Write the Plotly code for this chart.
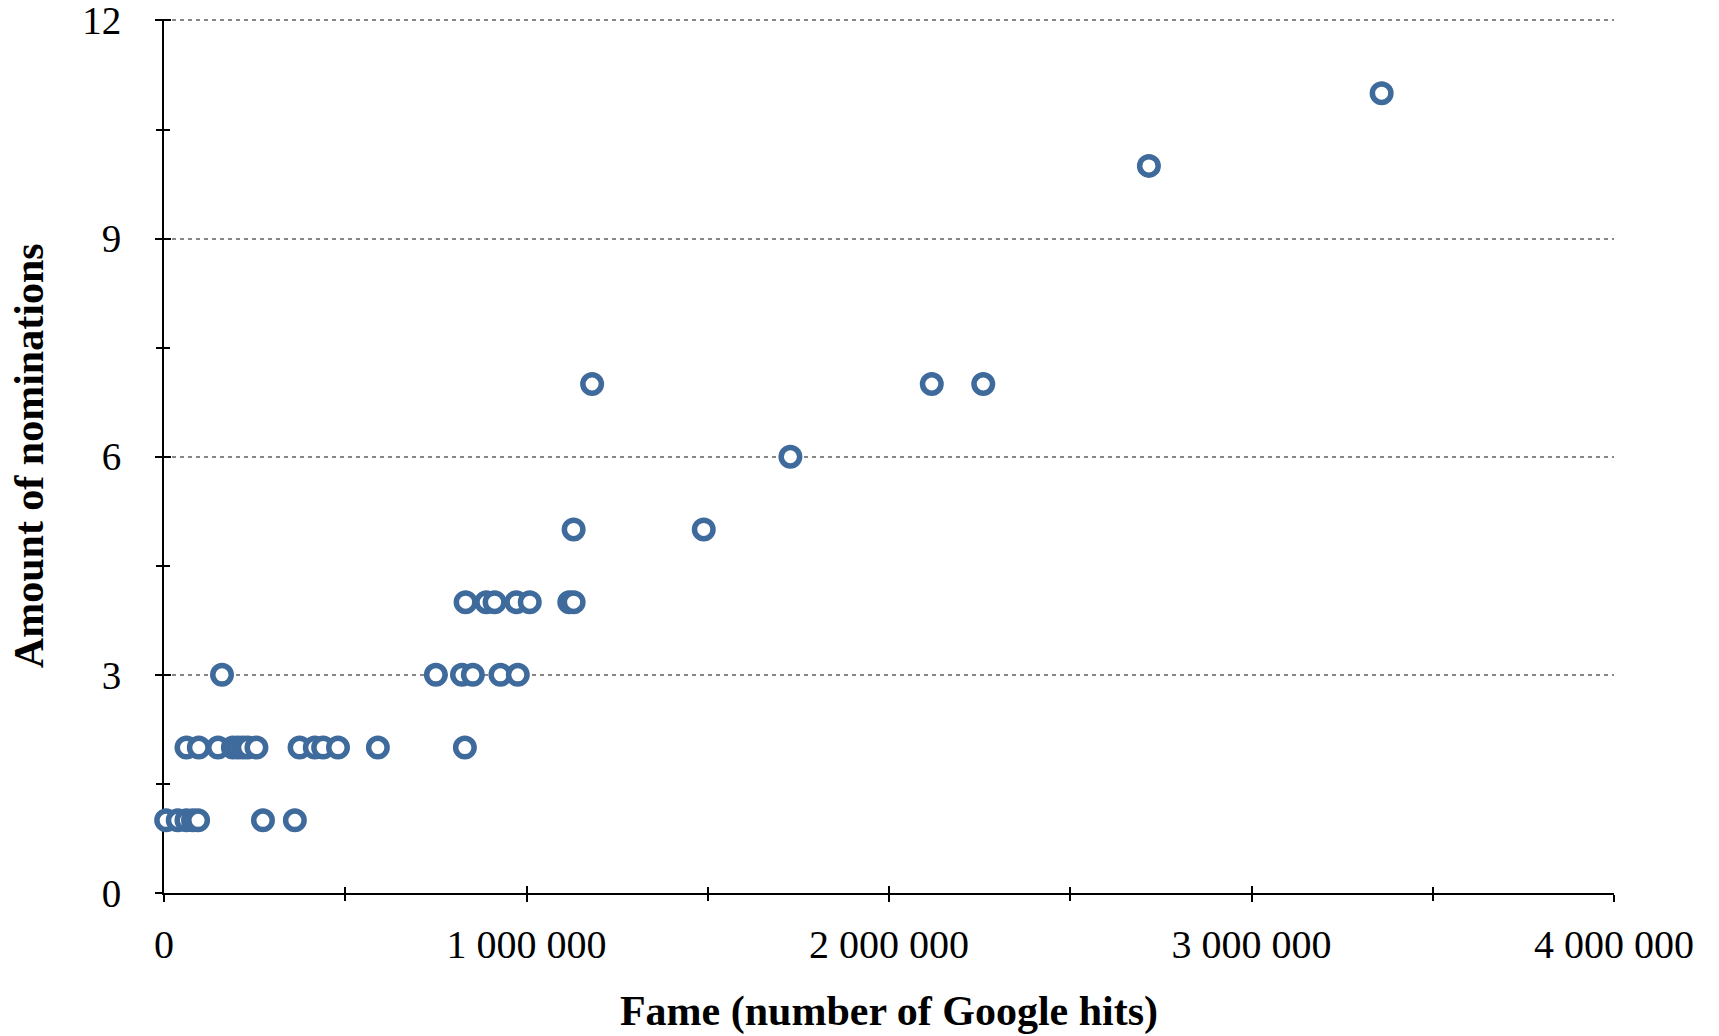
import plotly.graph_objects as go

# ---- data ----
fame_1 = [6000, 38000, 62000, 80000, 94000, 273000, 361000]
fame_2 = [62000, 96000, 149000, 190000, 204000, 218000, 231000, 255000,
          374000, 416000, 439000, 480000, 590000, 830000]
fame_3 = [160000, 750000, 822000, 852000, 928000, 976000]
fame_4 = [832000, 889000, 912000, 972000, 1009000, 1118000, 1130000]
fame_5 = [1130000, 1489000]
fame_6 = [1728000]
fame_7 = [1181000, 2118000, 2260000]
fame_10 = [2717000]
fame_11 = [3359000]

groups = {1: fame_1, 2: fame_2, 3: fame_3, 4: fame_4, 5: fame_5,
          6: fame_6, 7: fame_7, 10: fame_10, 11: fame_11}

x_tick_vals = [0, 1000000, 2000000, 3000000, 4000000]
x_tick_text = ["0", "1 000 000", "2 000 000", "3 000 000", "4 000 000"]
y_tick_vals = [0, 3, 6, 9, 12]
y_tick_text = ["0", "3", "6", "9", "12"]

x_title = "Fame (number of Google hits)"
y_title = "Amount of nominations"

xs, ys = [], []
for nom, vals in groups.items():
    for v in vals:
        xs.append(v)
        ys.append(nom)

FONT = "Liberation Serif, Times New Roman, serif"
BLUE = "#3F6A9C"
Y_TOP = 12.02  # tiny headroom so the gridline at 12 is drawn

fig = go.Figure()
fig.add_trace(go.Scatter(
    x=xs, y=ys, mode="markers", cliponaxis=False, showlegend=False,
    marker=dict(symbol="circle", size=18.5, color="white",
                line=dict(color=BLUE, width=5.5)),
))
# dummy trace for overlay axes (inside tick halves)
fig.add_trace(go.Scatter(x=[], y=[], xaxis="x2", yaxis="y2",
                         showlegend=False, hoverinfo="skip"))

axis_common = dict(showline=True, linecolor="black", linewidth=2,
                   ticks="outside", tickcolor="black", tickwidth=2, ticklen=7,
                   zeroline=False, layer="below traces", automargin=False,
                   ticklabeloverflow="allow")

fig.update_layout(
    width=1719, height=1036,
    paper_bgcolor="white", plot_bgcolor="white",
    margin=dict(l=164, r=105, t=19, b=143),
    font=dict(family=FONT, color="black", size=38),
    xaxis=dict(
        range=[0, 4000000], tickvals=x_tick_vals, ticktext=x_tick_text,
        showgrid=False, ticklabelstandoff=8,
        minor=dict(dtick=500000, tick0=0, ticks="outside", ticklen=6,
                   tickwidth=2, tickcolor="black"),
        title=dict(text="<b>" + x_title + "</b>",
                   font=dict(size=42, family=FONT), standoff=30),
        tickfont=dict(size=40, family=FONT),
        **axis_common,
    ),
    yaxis=dict(
        range=[0, Y_TOP], tickvals=y_tick_vals, ticktext=y_tick_text,
        showgrid=True, gridcolor="#868686", gridwidth=1.5, griddash="4px,4px",
        ticklabelstandoff=26,
        minor=dict(dtick=1.5, tick0=0, ticks="outside", ticklen=6,
                   tickwidth=2, tickcolor="black", showgrid=False),
        tickfont=dict(size=39, family=FONT),
        **axis_common,
    ),
    xaxis2=dict(overlaying="x", range=[0, 4000000], tickvals=x_tick_vals,
                showticklabels=False, ticks="inside", ticklen=7, tickwidth=2,
                tickcolor="black", showgrid=False, zeroline=False,
                showline=False, side="bottom", automargin=False,
                minor=dict(dtick=500000, tick0=0, ticks="inside", ticklen=6,
                           tickwidth=2, tickcolor="black")),
    yaxis2=dict(overlaying="y", range=[0, Y_TOP], tickvals=y_tick_vals,
                showticklabels=False, ticks="inside", ticklen=7, tickwidth=2,
                tickcolor="black", showgrid=False, zeroline=False,
                showline=False, side="left", automargin=False,
                minor=dict(dtick=1.5, tick0=0, ticks="inside", ticklen=6,
                           tickwidth=2, tickcolor="black")),
    annotations=[dict(
        text="<b>" + y_title + "</b>", textangle=-90,
        xref="paper", yref="paper", x=-0.093, y=0.5,
        xanchor="center", yanchor="middle", showarrow=False,
        font=dict(size=42, family=FONT, color="black"),
    )],
)

fig.write_html("out.html",
               config={"displayModeBar": False},
               post_script="document.body.style.margin='0';"
                           "document.body.style.overflow='hidden';")
